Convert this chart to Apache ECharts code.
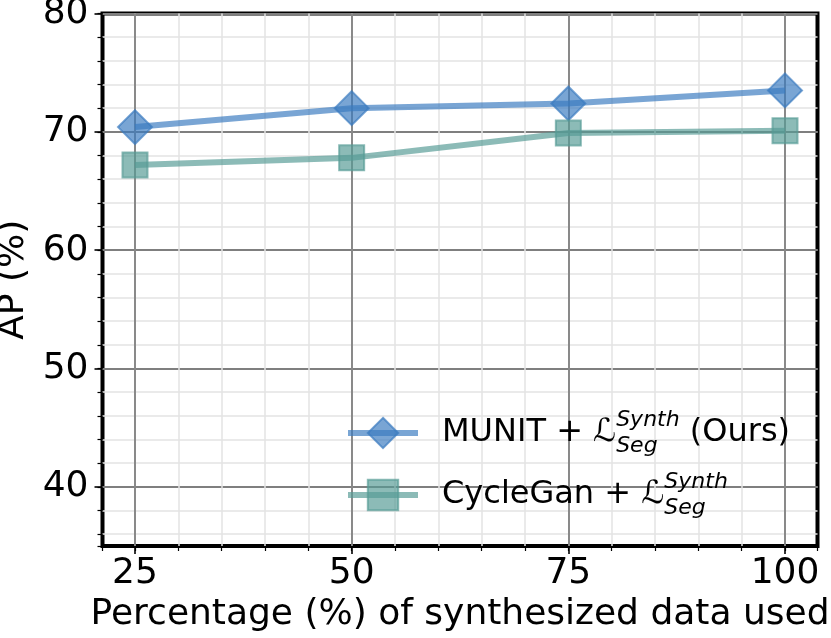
<!DOCTYPE html>
<html>
<head>
<meta charset="utf-8">
<script src="https://cdn.jsdelivr.net/npm/echarts@6/dist/echarts.min.js"></script>
<style>
  html, body { margin: 0; padding: 0; background: #fff; }
  #chart { width: 831px; height: 638px; }
</style>
</head>
<body>
<div id="chart"></div>
<script>
// values
const percentages = [25, 50, 75, 100];
const munitAP = [70.4, 72.0, 72.4, 73.5];
const cycleganAP = [67.2, 67.8, 69.9, 70.1];
const xTicks = [25, 50, 75, 100];
const yTicks = [40, 50, 60, 70, 80];
const seriesNames = ['MUNIT', 'CycleGan'];

const FONT = 'DejaVu Sans';
const MUNIT_COLOR = '#3a7bbf';
const CYCLE_COLOR = '#569b95';

const toPoints = (ys) => percentages.map((x, i) => [x, ys[i]]);

const chart = echarts.init(document.getElementById('chart'), null, { renderer: 'canvas' });

// minor grid comes from the auto ticks (every 5 / every 2),
// major grid + labels come from a second axis with custom values
const minorAxis = {
  splitLine: { show: true, showMinLine: false, showMaxLine: false, lineStyle: { color: '#e3e3e3', width: 1.5 } },
  axisTick: { show: true, length: 5, lineStyle: { color: '#000', width: 1.2 } },
  axisLabel: { show: false },
  axisLine: { show: false }
};

const majorSplit = { show: true, showMinLine: true, showMaxLine: true, lineStyle: { color: '#7f7f7f', width: 1.8 } };

const option = {
  animation: false,
  backgroundColor: '#fff',
  grid: {
    show: true,
    left: 102.5,
    top: 13.5,
    width: 715,
    height: 532.5,
    borderColor: '#000',
    borderWidth: 4,
    backgroundColor: 'transparent',
    containLabel: false,
    outerBoundsMode: 'none'
  },
  xAxis: [
    Object.assign({ type: 'value', min: 21.25, max: 103.75, splitNumber: 16, position: 'bottom' }, minorAxis),
    {
      type: 'value',
      min: 21.25,
      max: 103.75,
      position: 'bottom',
      name: 'Percentage (%) of synthesized data used',
      nameLocation: 'middle',
      nameGap: 50,
      nameTextStyle: { fontFamily: FONT, fontSize: 36, color: '#000' },
      axisLine: { show: false },
      axisTick: { show: true, customValues: xTicks, length: 8, lineStyle: { color: '#000', width: 1.6 } },
      axisLabel: { customValues: xTicks, margin: 10, fontFamily: FONT, fontSize: 36, color: '#000' },
      splitLine: majorSplit
    }
  ],
  yAxis: [
    Object.assign({ type: 'value', min: 35, max: 80, splitNumber: 22, position: 'left' }, minorAxis),
    {
      type: 'value',
      min: 35,
      max: 80,
      position: 'left',
      name: 'AP (%)',
      nameLocation: 'middle',
      nameGap: 66,
      nameTextStyle: { fontFamily: FONT, fontSize: 36, color: '#000' },
      axisLine: { show: false },
      axisTick: { show: true, customValues: yTicks, length: 8, lineStyle: { color: '#000', width: 1.6 } },
      axisLabel: { customValues: yTicks, margin: 14, fontFamily: FONT, fontSize: 36, color: '#000' },
      splitLine: majorSplit
    }
  ],
  legend: {
    orient: 'vertical',
    left: 345,
    top: 409,
    padding: 0,
    itemGap: 14,
    itemWidth: 70,
    itemHeight: 38,
    selectedMode: false,
    data: seriesNames,
    lineStyle: { width: 6 },
    formatter: (name) => name + ' + {L|ℒ}{sub|Seg}{sup|Synth}' + (name === 'MUNIT' ? ' (Ours)' : ''),
    textStyle: {
      fontFamily: FONT,
      fontSize: 32,
      color: '#000',
      lineHeight: 48,
      padding: [0, 0, 0, 19],
      rich: {
        L: { fontFamily: FONT, fontStyle: 'italic', fontSize: 32, color: '#000', lineHeight: 48 },
        sub: { fontFamily: FONT, fontStyle: 'italic', fontSize: 22, color: '#000', lineHeight: 22, verticalAlign: 'bottom', width: 0 },
        sup: { fontFamily: FONT, fontStyle: 'italic', fontSize: 22, color: '#000', lineHeight: 22, verticalAlign: 'top' }
      }
    }
  },
  series: [
    {
      name: seriesNames[0],
      type: 'line',
      xAxisIndex: 0,
      yAxisIndex: 0,
      data: toPoints(munitAP),
      symbol: 'diamond',
      symbolSize: 34,
      lineStyle: { color: MUNIT_COLOR, width: 6, opacity: 0.68 },
      itemStyle: { color: MUNIT_COLOR, borderColor: MUNIT_COLOR, borderWidth: 2, opacity: 0.68 }
    },
    {
      name: seriesNames[1],
      type: 'line',
      xAxisIndex: 0,
      yAxisIndex: 0,
      data: toPoints(cycleganAP),
      symbol: 'rect',
      symbolSize: 25,
      lineStyle: { color: CYCLE_COLOR, width: 6, opacity: 0.68 },
      itemStyle: { color: CYCLE_COLOR, borderColor: CYCLE_COLOR, borderWidth: 2, opacity: 0.68 }
    }
  ]
};

chart.setOption(option);
</script>
</body>
</html>
